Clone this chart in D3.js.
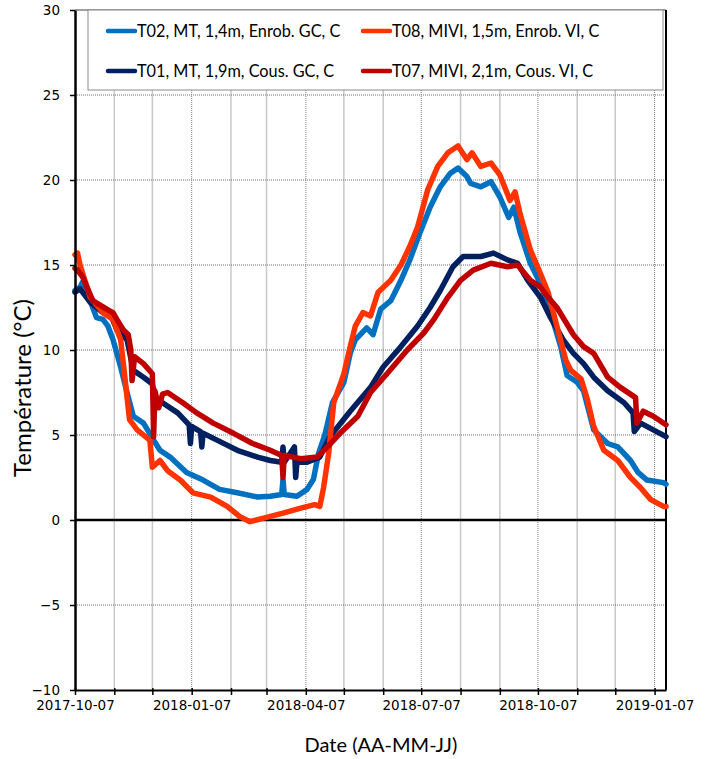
<!DOCTYPE html>
<html>
<head>
<meta charset="utf-8">
<script src="https://cdn.jsdelivr.net/npm/d3@7"></script>
<style>
  body { margin: 0; background: #fff; }
  .tick text { font-family: "DejaVu Sans", Verdana, sans-serif; font-size: 13.5px; fill: #000; }
  .legend text { font-family: Lato, "Open Sans", sans-serif; font-size: 16.3px; fill: #000; }
  .title { font-family: Lato, "Open Sans", sans-serif; font-size: 20px; fill: #000; }
</style>
</head>
<body>
<div id="chart"></div>
<script>
// series names, colours in legend order
var seriesNames = ["T02, MT, 1,4m, Enrob. GC, C", "T08, MIVI, 1,5m, Enrob. VI, C",
                   "T01, MT, 1,9m, Cous. GC, C", "T07, MIVI, 2,1m, Cous. VI, C"]
var seriesColors = ["#0070C0", "#FF3300", "#002060", "#C00000"]

var t02Dates = ["2017-10-07","2017-10-11","2017-10-13","2017-10-19","2017-10-24","2017-10-29","2017-11-02","2017-11-06",
  "2017-11-12","2017-11-17","2017-11-22","2017-11-30","2017-12-08","2017-12-13","2017-12-21","2018-01-03","2018-01-16",
  "2018-01-29","2018-02-12","2018-02-28","2018-03-10","2018-03-19","2018-03-20","2018-03-21","2018-03-31","2018-04-08",
  "2018-04-13","2018-04-17","2018-04-22","2018-04-28","2018-05-07","2018-05-12","2018-05-16","2018-05-25","2018-05-30",
  "2018-06-05","2018-06-13","2018-06-21","2018-06-28","2018-07-06","2018-07-14","2018-07-22","2018-07-30","2018-08-05",
  "2018-08-12","2018-08-15","2018-08-23","2018-08-31","2018-09-07","2018-09-14","2018-09-18","2018-09-23","2018-10-01",
  "2018-10-09","2018-10-17","2018-10-25","2018-10-30","2018-11-07","2018-11-12","2018-11-20","2018-12-01","2018-12-09",
  "2018-12-19","2018-12-25","2019-01-01","2019-01-14","2019-01-16"]
var t02Values = [13.5,13.7,14.0,12.9,11.9,11.8,11.4,10.6,
  9.0,7.5,6.1,5.7,4.7,4.1,3.7,2.8,2.35,
  1.8,1.6,1.35,1.4,1.5,2.4,1.5,1.4,1.8,
  2.4,3.9,5.0,6.9,8.1,9.8,10.6,11.3,10.9,
  12.4,12.9,14.1,15.3,16.9,18.4,19.6,20.4,20.7,
  20.2,19.8,19.6,19.9,19.0,17.8,18.4,16.9,15.1,
  13.9,12.2,10.2,8.5,8.1,7.6,5.3,4.5,4.3,
  3.5,2.8,2.35,2.2,2.1]

var t08Dates = ["2017-10-07","2017-10-09","2017-10-11","2017-10-19","2017-10-29","2017-11-06","2017-11-12","2017-11-15",
  "2017-11-19","2017-11-25","2017-12-05","2017-12-07","2017-12-13","2017-12-19","2017-12-29","2018-01-08","2018-01-22",
  "2018-02-04","2018-02-14","2018-02-22","2018-03-04","2018-03-20","2018-04-03","2018-04-14","2018-04-18","2018-04-21",
  "2018-04-25","2018-04-29","2018-05-07","2018-05-12","2018-05-16","2018-05-22","2018-05-28","2018-06-03","2018-06-13",
  "2018-06-21","2018-06-28","2018-07-04","2018-07-12","2018-07-20","2018-07-28","2018-08-05","2018-08-12","2018-08-16",
  "2018-08-23","2018-08-31","2018-09-07","2018-09-15","2018-09-19","2018-09-23","2018-10-01","2018-10-09","2018-10-15",
  "2018-10-22","2018-10-29","2018-11-02","2018-11-10","2018-11-15","2018-11-20","2018-11-28","2018-12-09","2018-12-19",
  "2018-12-27","2019-01-04","2019-01-14","2019-01-16"]
var t08Values = [15.6,15.7,15.0,13.1,12.2,11.8,10.6,8.6,
  5.9,5.3,4.7,3.1,3.5,2.9,2.35,1.6,1.35,
  0.8,0.2,-0.1,0.1,0.4,0.7,0.9,0.8,1.9,
  3.9,6.9,8.6,10.2,11.4,12.2,12.0,13.4,14.1,
  15.0,16.1,17.2,19.4,20.8,21.6,22.0,21.2,21.6,
  20.8,21.0,20.3,18.8,19.3,18.0,15.9,14.5,13.4,
  11.4,9.4,8.8,8.3,7.1,5.5,4.1,3.5,2.5,
  1.9,1.2,0.8,0.8]

var t01Dates = ["2017-10-07","2017-10-11","2017-10-19","2017-10-29","2017-11-05","2017-11-09","2017-11-17","2017-11-22",
  "2017-11-30","2017-12-07","2017-12-09","2017-12-15","2017-12-27","2018-01-05","2018-01-06","2018-01-07","2018-01-14",
  "2018-01-15","2018-01-16","2018-01-27","2018-02-12","2018-02-28","2018-03-10","2018-03-19","2018-03-20","2018-03-21",
  "2018-03-29","2018-03-30","2018-03-31","2018-04-08","2018-04-18","2018-04-26","2018-05-12","2018-05-28","2018-06-07",
  "2018-06-21","2018-07-04","2018-07-14","2018-07-22","2018-08-01","2018-08-09","2018-08-23","2018-09-02","2018-09-13",
  "2018-09-21","2018-09-29","2018-10-09","2018-10-17","2018-10-27","2018-11-04","2018-11-12","2018-11-20","2018-12-01",
  "2018-12-14","2018-12-21","2018-12-22","2018-12-27","2019-01-06","2019-01-16"]
var t01Values = [13.4,13.6,12.8,12.2,11.9,11.2,10.6,8.8,
  8.4,8.0,7.2,6.9,6.3,5.6,4.5,5.5,5.2,
  4.3,5.1,4.7,4.1,3.7,3.5,3.4,4.3,3.4,
  4.3,2.5,3.4,3.4,3.7,4.9,6.4,7.8,9.0,
  10.2,11.4,12.5,13.5,14.9,15.5,15.5,15.7,15.3,
  15.1,14.1,13.1,11.9,10.6,9.8,9.2,8.4,7.6,
  6.9,6.3,5.2,5.7,5.3,4.9]

var t07Dates = ["2017-10-07","2017-10-09","2017-10-13","2017-10-21","2017-11-01","2017-11-06","2017-11-09","2017-11-14",
  "2017-11-18","2017-11-20","2017-11-21","2017-11-23","2017-11-30","2017-12-07","2017-12-08","2017-12-09","2017-12-12",
  "2017-12-15","2017-12-19","2017-12-31","2018-01-11","2018-01-24","2018-02-09","2018-02-24","2018-03-10","2018-03-19",
  "2018-03-20","2018-03-21","2018-04-03","2018-04-16","2018-04-24","2018-05-04","2018-05-18","2018-05-28","2018-06-10",
  "2018-06-26","2018-07-09","2018-07-17","2018-07-28","2018-08-07","2018-08-17","2018-08-31","2018-09-13","2018-09-21",
  "2018-10-01","2018-10-09","2018-10-15","2018-10-22","2018-11-04","2018-11-12","2018-11-20","2018-12-01","2018-12-11",
  "2018-12-23","2018-12-24","2018-12-29","2019-01-06","2019-01-16"]
var t07Values = [14.8,14.7,14.3,12.9,12.4,12.2,11.8,11.2,
  10.9,10.0,8.2,9.6,9.2,8.6,4.9,7.6,6.6,
  7.4,7.5,6.9,6.3,5.7,5.1,4.5,4.1,3.8,
  2.5,3.8,3.6,3.7,4.3,5.1,6.1,7.5,8.6,
  10.0,11.0,11.8,13.1,14.1,14.7,15.1,14.9,15.0,
  14.1,13.7,13.1,12.5,10.9,10.2,9.8,8.4,7.8,
  7.2,5.7,6.4,6.1,5.6]

var xStart = "2017-10-07", xEnd = "2019-01-16"
var yTicks = [-10, -5, 0, 5, 10, 15, 20, 25, 30]

var width = 707, height = 759
var margin = {top: 10, right: 41, bottom: 69, left: 75}
var parse = d3.timeParse("%Y-%m-%d")
var fmt = d3.timeFormat("%Y-%m-%d")

var svg = d3.select("#chart").append("svg")
    .attr("width", width)
    .attr("height", height)

var xScale = d3.scaleTime().domain([parse(xStart), parse(xEnd)]).range([margin.left, width - margin.right])
var yScale = d3.scaleLinear().domain([-10, 30]).range([height - margin.bottom, margin.top])

// month ticks on the 7th, labels every 3 months
var monthTicks = d3.timeMonth.range(parse("2017-10-01"), parse("2019-01-02")).map(function(d) {
    return new Date(d.getFullYear(), d.getMonth(), 7)
})

// vertical grid
svg.append("g").selectAll("line")
    .data(monthTicks.slice(1))
    .enter().append("line")
    .attr("x1", function(d) { return xScale(d) })
    .attr("x2", function(d) { return xScale(d) })
    .attr("y1", margin.top)
    .attr("y2", height - margin.bottom)
    .attr("stroke", function(d) { return d.getMonth() % 3 == 0 ? "#7f7f7f" : "#c8c8c8" })
    .attr("stroke-width", function(d) { return d.getMonth() % 3 == 0 ? 1 : 1.5 })
    .attr("stroke-dasharray", function(d) { return d.getMonth() % 3 == 0 ? "1,1" : null })

// horizontal grid
svg.append("g").selectAll("line")
    .data([-5, 5, 10, 15, 20, 25])
    .enter().append("line")
    .attr("x1", margin.left)
    .attr("x2", width - margin.right)
    .attr("y1", function(d) { return yScale(d) })
    .attr("y2", function(d) { return yScale(d) })
    .attr("stroke", "#6f6f6f")
    .attr("stroke-width", 1)
    .attr("stroke-dasharray", "1,1")

// zero line
svg.append("line")
    .attr("x1", margin.left).attr("x2", width - margin.right)
    .attr("y1", yScale(0)).attr("y2", yScale(0))
    .attr("stroke", "#000").attr("stroke-width", 2.5)

// frame top / right
svg.append("line")
    .attr("x1", margin.left).attr("x2", width - margin.right)
    .attr("y1", margin.top).attr("y2", margin.top)
    .attr("stroke", "#404040").attr("stroke-width", 1)
svg.append("line")
    .attr("x1", width - margin.right).attr("x2", width - margin.right)
    .attr("y1", margin.top).attr("y2", height - margin.bottom)
    .attr("stroke", "#000").attr("stroke-width", 2)

var lineGen = d3.line()
    .x(function(d) { return xScale(d.date) })
    .y(function(d) { return yScale(d.value) })

var allSeries = [
    {dates: t02Dates, values: t02Values, color: seriesColors[0]},
    {dates: t01Dates, values: t01Values, color: seriesColors[2]},
    {dates: t08Dates, values: t08Values, color: seriesColors[1]},
    {dates: t07Dates, values: t07Values, color: seriesColors[3]}
]

for (var i = 0; i < allSeries.length; i++) {
    var s = allSeries[i]
    var pts = s.dates.map(function(d, j) { return {date: parse(d), value: s.values[j]} })
    svg.append("path")
        .attr("d", lineGen(pts))
        .attr("fill", "none")
        .attr("stroke", s.color)
        .attr("stroke-width", 5.5)
        .attr("stroke-linejoin", "round")
        .attr("stroke-linecap", "round")
}

// axes
var xAxis = d3.axisBottom(xScale)
    .tickValues(monthTicks)
    .tickSize(5)
    .tickSizeOuter(0)
    .tickFormat(function(d) { return d.getMonth() % 3 == 0 ? fmt(d) : "" })
var gx = svg.append("g")
    .attr("transform", "translate(0," + (height - margin.bottom) + ")")
    .call(xAxis)
gx.select(".domain").attr("stroke", "#000").attr("stroke-width", 2)
gx.selectAll(".tick line").attr("stroke", "#000").attr("stroke-width", 1.5).attr("y1", -2)
gx.selectAll(".tick text").attr("dy", "0.95em").attr("y", 7)

var yAxis = d3.axisLeft(yScale).tickValues(yTicks).tickSize(5).tickSizeOuter(0).tickPadding(10)
var gy = svg.append("g")
    .attr("transform", "translate(" + margin.left + ",0)")
    .call(yAxis)
gy.select(".domain").attr("stroke", "#000").attr("stroke-width", 2.5)
gy.selectAll(".tick line").attr("stroke", "#000").attr("stroke-width", 1.5)

// titles
svg.append("text")
    .attr("class", "title")
    .attr("transform", "translate(31,388) rotate(-90)")
    .attr("text-anchor", "middle")
    .style("font-size", "24px")
    .text("Température (°C)")
svg.append("text")
    .attr("class", "title")
    .attr("x", 381)
    .attr("y", 752)
    .attr("text-anchor", "middle")
    .text("Date (AA-MM-JJ)")

// legend
var legend = svg.append("g").attr("class", "legend")
legend.append("rect")
    .attr("x", 88).attr("y", 10)
    .attr("width", 575).attr("height", 80)
    .attr("fill", "#fff")
    .attr("stroke", "#8a8a8a")
    .attr("stroke-width", 1)

var legendPos = [[108, 31], [363, 31], [108, 71], [363, 71]]
var items = legend.selectAll("g.item")
    .data(seriesNames)
    .enter().append("g")
    .attr("class", "item")
    .attr("transform", function(d, i) { return "translate(" + legendPos[i][0] + "," + legendPos[i][1] + ")" })
items.append("line")
    .attr("x1", 0).attr("x2", 27)
    .attr("stroke", function(d, i) { return seriesColors[i] })
    .attr("stroke-width", 4.5)
    .attr("stroke-linecap", "round")
items.append("text")
    .attr("x", 29)
    .attr("dy", "0.35em")
    .text(function(d) { return d })
</script>
</body>
</html>
